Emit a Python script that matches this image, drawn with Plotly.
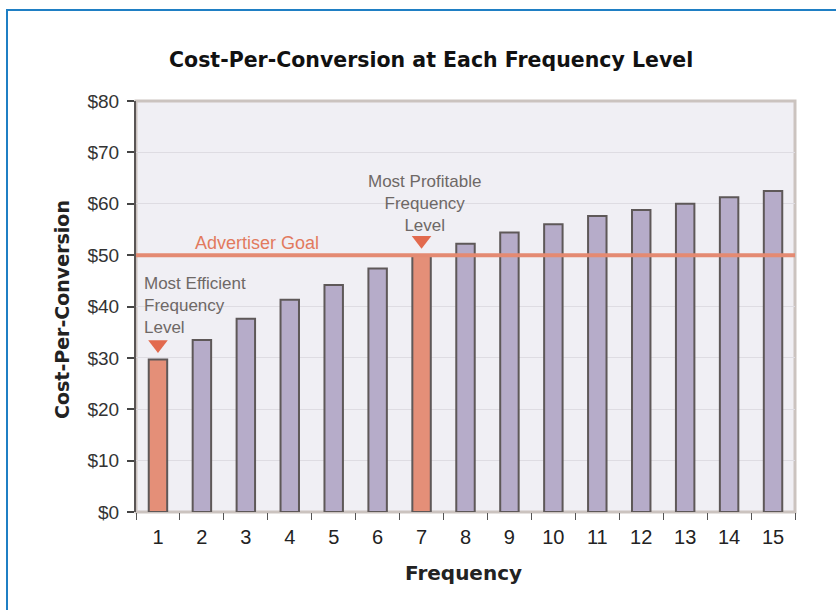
import plotly.graph_objects as go

# Cost-per-conversion by frequency level
frequency = [str(i) for i in range(1, 16)]
cost = [29.7, 33.5, 37.6, 41.3, 44.2, 47.4, 50.0, 52.2, 54.4, 56.0, 57.6, 58.8, 60.0, 61.25, 62.5]
highlight = ["1", "7"]
goal = 50
y_ticks = [0, 10, 20, 30, 40, 50, 60, 70, 80]
y_tick_text = ["$%d" % v for v in y_ticks]

PURPLE = "#b6acc9"
SALMON = "#e48f78"
MARK = "#e26a4e"
OUTLINE = "#5e5858"
SANS = "Liberation Sans, Arial, sans-serif"
BOLD = "DejaVu Sans, Liberation Sans, sans-serif"

colors = [SALMON if f in highlight else PURPLE for f in frequency]

W, H = 836, 610
L, R, T, B = 136, 41, 101, 98
pw, ph = W - L - R, H - T - B


def px_x(p):
    return (p - L) / pw


def px_y(p):
    return (H - B - p) / ph


fig = go.Figure()
fig.add_trace(go.Bar(
    x=frequency, y=cost, width=0.42,
    marker=dict(color=colors, line=dict(color=OUTLINE, width=2)),
    hoverinfo="skip", showlegend=False,
))

# downward markers above the two highlighted levels
mark_y = [cost[frequency.index(f)] + 2.9 for f in highlight]
fig.add_trace(go.Scatter(
    x=highlight, y=mark_y, mode="markers",
    marker=dict(symbol="triangle-down", size=17, color=MARK, line=dict(width=0)),
    hoverinfo="skip", showlegend=False,
))

# goal line
fig.add_shape(type="line", xref="paper", yref="y", x0=0, x1=1, y0=goal, y1=goal,
              line=dict(color="#e48a72", width=4), layer="above")
# plot frame
fig.add_shape(type="rect", xref="paper", yref="paper", x0=0, x1=1, y0=0, y1=1,
              line=dict(color="#cbc3bf", width=3), layer="below")
# outer blue frame
fig.add_shape(type="rect", xref="paper", yref="paper",
              x0=px_x(7), x1=px_x(W + 20), y0=px_y(H + 20), y1=px_y(10),
              line=dict(color="#1f7fc4", width=2), layer="above")

fig.update_layout(
    width=W, height=H,
    margin=dict(l=L, r=R, t=T, b=B),
    paper_bgcolor="white", plot_bgcolor="#f0eff4",
    font=dict(family=SANS, color="#333333"),
    xaxis=dict(
        type="category", range=[-0.5, 14.5], showgrid=False, zeroline=False,
        ticks="outside", tickson="boundaries", ticklen=7, tickwidth=1, tickcolor="#555",
        tickfont=dict(family=SANS, size=20, color="#222"), ticklabelstandoff=11,
        showline=False,
    ),
    yaxis=dict(
        range=[0, 80], tickvals=y_ticks, ticktext=y_tick_text,
        showgrid=True, gridcolor="#dedce2", gridwidth=1, zeroline=False,
        ticks="outside", ticklen=7, tickwidth=1.5, tickcolor="#444",
        tickfont=dict(family=SANS, size=19, color="#333"), ticklabelstandoff=4,
        showline=True, linecolor="#5a5555", linewidth=2,
    ),
)

GRAY = "#6e6866"
annotations = [
    dict(text="<b>Cost-Per-Conversion at Each Frequency Level</b>", x=px_x(431), y=px_y(60),
         font=dict(size=20.5, color="#111", family=BOLD)),
    dict(text="<b>Cost-Per-Conversion</b>", x=px_x(62), y=px_y(310), textangle=-90,
         font=dict(size=19, color="#222", family=BOLD)),
    dict(text="<b>Frequency</b>", x=px_x(463), y=px_y(573),
         font=dict(size=20, color="#222", family=BOLD)),
    dict(text="Advertiser Goal", x=px_x(193), y=px_y(243), xanchor="left",
         font=dict(size=18, color="#e27a5e", family=SANS)),
    dict(text="Most Efficient<br>Frequency<br>Level", x=px_x(143), y=px_y(305),
         xanchor="left", align="left", borderpad=0,
         font=dict(size=17, color=GRAY, family=SANS)),
    dict(text="Most Profitable<br>Frequency<br>Level", x=px_x(424), y=px_y(203.5),
         xanchor="center", align="center", borderpad=0,
         font=dict(size=17, color=GRAY, family=SANS)),
]
for a in annotations:
    a.update(xref="paper", yref="paper", showarrow=False)
    a.setdefault("xanchor", "center")
    a.setdefault("yanchor", "middle")
fig.layout.annotations = [go.layout.Annotation(**a) for a in annotations]

fig.write_html("out.html")
